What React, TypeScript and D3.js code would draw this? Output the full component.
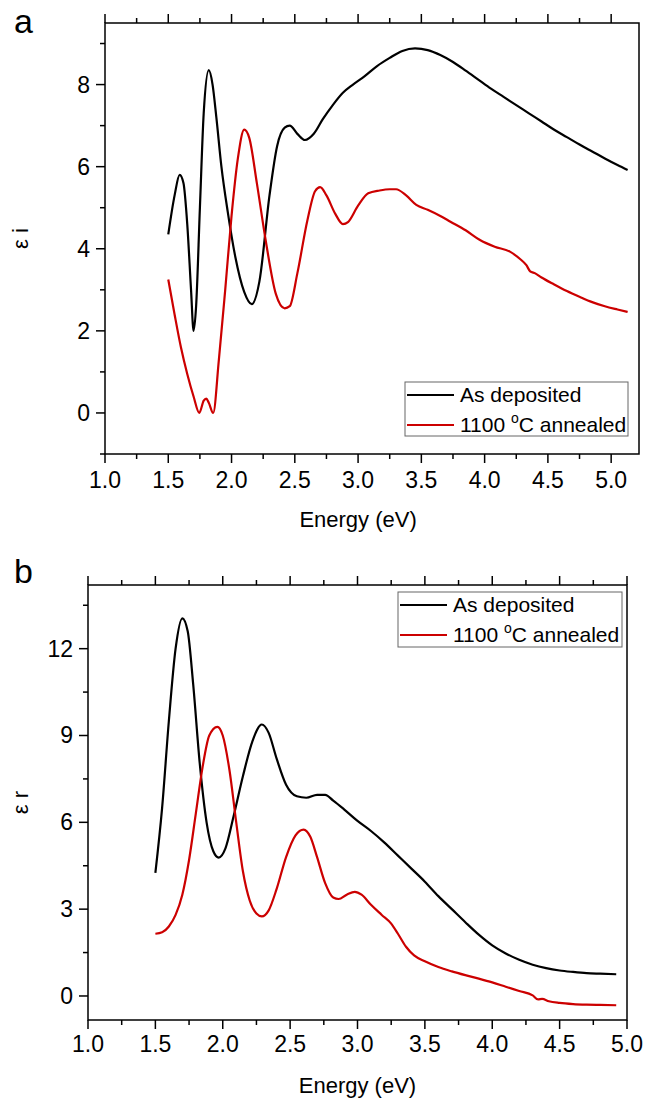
import React from "react";
import * as d3 from "d3";

// ---------- DATA ----------
// Panel a: imaginary part (eps_i)
const epsIDepositedE = [1.50,1.55,1.59,1.62,1.65,1.68,1.70,1.72,1.75,1.78,1.82,1.85,1.88,1.92,1.97,2.03,2.10,2.16,2.22,2.30,2.36,2.42,2.46,2.52,2.58,2.65,2.72,2.80,2.88,2.96,3.05,3.15,3.25,3.35,3.45,3.55,3.65,3.75,3.85,3.95,4.05,4.15,4.25,4.35,4.45,4.55,4.65,4.75,4.85,4.95,5.05,5.13];
const epsIDepositedV = [4.35,5.3,5.8,5.6,4.6,3.0,2.0,2.6,5.0,7.3,8.35,8.0,7.2,6.0,4.9,3.8,2.95,2.65,3.2,5.3,6.5,6.95,7.0,6.8,6.65,6.8,7.15,7.5,7.8,8.0,8.2,8.45,8.65,8.82,8.88,8.84,8.72,8.55,8.34,8.12,7.9,7.7,7.5,7.3,7.1,6.9,6.72,6.54,6.37,6.2,6.04,5.92];

const epsIAnnealedE = [1.50,1.55,1.60,1.65,1.70,1.745,1.78,1.80,1.82,1.855,1.90,1.95,2.00,2.05,2.10,2.14,2.20,2.27,2.35,2.42,2.46,2.52,2.60,2.66,2.70,2.75,2.82,2.88,2.92,3.00,3.08,3.17,3.25,3.30,3.38,3.46,3.55,3.65,3.73,3.85,3.96,4.08,4.20,4.28,4.33,4.36,4.40,4.45,4.55,4.65,4.75,4.85,4.95,5.05,5.13];
const epsIAnnealedV = [3.25,2.4,1.6,0.95,0.4,0.0,0.3,0.35,0.25,0.0,1.3,3.0,4.8,6.2,6.9,6.7,5.6,4.2,2.9,2.55,2.6,3.4,4.7,5.4,5.5,5.3,4.85,4.6,4.65,5.05,5.35,5.42,5.45,5.45,5.3,5.07,4.95,4.8,4.66,4.45,4.22,4.05,3.93,3.75,3.6,3.45,3.4,3.3,3.13,2.97,2.83,2.7,2.6,2.52,2.46];

// Panel b: real part (eps_r)
const epsRDepositedE = [1.50,1.55,1.60,1.65,1.70,1.74,1.78,1.83,1.88,1.93,1.97,2.02,2.08,2.15,2.22,2.29,2.34,2.40,2.47,2.55,2.62,2.70,2.76,2.82,2.90,3.00,3.10,3.20,3.30,3.40,3.50,3.60,3.70,3.80,3.90,4.00,4.10,4.20,4.30,4.40,4.50,4.60,4.70,4.80,4.92];
const epsRDepositedV = [4.25,6.5,9.5,12.0,13.05,12.6,10.8,8.0,6.0,5.0,4.78,5.1,6.2,7.6,8.8,9.38,9.1,8.2,7.3,6.9,6.85,6.95,6.95,6.75,6.45,6.05,5.7,5.3,4.85,4.4,3.95,3.45,3.0,2.55,2.12,1.75,1.47,1.25,1.08,0.96,0.88,0.83,0.79,0.77,0.75];

const epsRAnnealedE = [1.50,1.55,1.60,1.65,1.70,1.75,1.80,1.85,1.90,1.96,2.00,2.05,2.10,2.15,2.20,2.25,2.29,2.34,2.40,2.47,2.54,2.60,2.65,2.70,2.76,2.82,2.86,2.92,2.98,3.03,3.10,3.18,3.25,3.30,3.36,3.42,3.50,3.60,3.70,3.80,3.90,4.00,4.10,4.20,4.30,4.34,4.37,4.42,4.50,4.60,4.70,4.80,4.92];
const epsRAnnealedV = [2.15,2.2,2.4,2.8,3.5,4.7,6.3,7.9,9.0,9.3,9.0,7.8,6.0,4.3,3.3,2.85,2.75,2.95,3.7,4.8,5.55,5.75,5.5,4.8,3.9,3.4,3.35,3.5,3.6,3.5,3.15,2.8,2.5,2.15,1.7,1.4,1.2,1.0,0.85,0.72,0.6,0.47,0.32,0.17,0.02,-0.12,-0.1,-0.18,-0.24,-0.28,-0.3,-0.31,-0.32];

const energyMajorTicks = [1.0, 1.5, 2.0, 2.5, 3.0, 3.5, 4.0, 4.5, 5.0];
const energyMinorTicks = [1.25, 1.75, 2.25, 2.75, 3.25, 3.75, 4.25, 4.75];
const epsIMajorTicks = [0, 2, 4, 6, 8];
const epsIMinorTicks = [-1, 1, 3, 5, 7, 9];
const epsRMajorTicks = [0, 3, 6, 9, 12];
const epsRMinorTicks = [1.5, 4.5, 7.5, 10.5, 13.5];

const seriesNames = ["As deposited", "1100 \u00B0C annealed"];
const seriesColors = ["#000000", "#cc0000"];

const FONT = "Arial, 'Liberation Sans', Helvetica, sans-serif";

type PanelProps = {
  letter: string;
  sub: string;
  xDomain: [number, number];
  xRange: [number, number];
  yDomain: [number, number];
  yRange: [number, number];
  yMajor: number[];
  yMinor: number[];
  series: { e: number[]; v: number[] }[];
  legend: { x: number; y: number; w: number; h: number };
  xLabelY: number;
  tickLabelY: number;
  yLabelX: number;
  letterY: number;
};

function Panel(p: PanelProps) {
  const x = d3.scaleLinear().domain(p.xDomain).range(p.xRange);
  const y = d3.scaleLinear().domain(p.yDomain).range(p.yRange);
  const [x0, x1] = p.xRange;
  const [yb, yt] = p.yRange;
  const line = d3
    .line<[number, number]>()
    .x((d) => x(d[0]))
    .y((d) => y(d[1]))
    .curve(d3.curveMonotoneX);
  const inX = (t: number) => t >= p.xDomain[0] - 1e-9 && t <= p.xDomain[1] + 1e-9;
  const inY = (t: number) => t >= p.yDomain[0] - 1e-9 && t <= p.yDomain[1] + 1e-9;
  const majLen = 9;
  const minLen = 5;
  const xCenter = (x(1) + x(5)) / 2;
  const yMid = (yb + yt) / 2;
  return (
    <g>
      <text x={14} y={p.letterY} fontFamily={FONT} fontSize={34} fill="#000">
        {p.letter}
      </text>
      {/* data */}
      {p.series.map((s, i) => (
        <path
          key={i}
          d={line(s.e.map((e, j) => [e, s.v[j]] as [number, number])) || ""}
          fill="none"
          stroke={seriesColors[i]}
          strokeWidth={2.2}
          strokeLinejoin="round"
        />
      ))}
      {/* frame */}
      <rect x={x0} y={yt} width={x1 - x0} height={yb - yt} fill="none" stroke="#000" strokeWidth={1.5} />
      {/* x ticks bottom and top */}
      {energyMajorTicks.filter(inX).map((t) => (
        <g key={"xm" + t}>
          <line x1={x(t)} x2={x(t)} y1={yb} y2={yb + majLen} stroke="#000" strokeWidth={1.5} />
          <line x1={x(t)} x2={x(t)} y1={yt} y2={yt - majLen} stroke="#000" strokeWidth={1.5} />
          <text x={x(t)} y={p.tickLabelY} textAnchor="middle" fontFamily={FONT} fontSize={23} fill="#000">
            {d3.format(".1f")(t)}
          </text>
        </g>
      ))}
      {energyMinorTicks.filter(inX).map((t) => (
        <g key={"xn" + t}>
          <line x1={x(t)} x2={x(t)} y1={yb} y2={yb + minLen} stroke="#000" strokeWidth={1.5} />
          <line x1={x(t)} x2={x(t)} y1={yt} y2={yt - minLen} stroke="#000" strokeWidth={1.5} />
        </g>
      ))}
      {/* y ticks */}
      {p.yMajor.filter(inY).map((t) => (
        <g key={"ym" + t}>
          <line x1={x0} x2={x0 - majLen} y1={y(t)} y2={y(t)} stroke="#000" strokeWidth={1.5} />
          <text x={x0 - majLen - 6} y={y(t) + 8} textAnchor="end" fontFamily={FONT} fontSize={23} fill="#000">
            {t}
          </text>
        </g>
      ))}
      {p.yMinor.filter(inY).map((t) => (
        <line key={"yn" + t} x1={x0} x2={x0 - minLen} y1={y(t)} y2={y(t)} stroke="#000" strokeWidth={1.5} />
      ))}
      {/* axis labels */}
      <text x={xCenter} y={p.xLabelY} textAnchor="middle" fontFamily={FONT} fontSize={22} fill="#000">
        Energy (eV)
      </text>
      <text
        transform={`translate(${p.yLabelX},${yMid}) rotate(-90)`}
        textAnchor="middle"
        fontFamily={FONT}
        fontSize={22}
        fill="#000"
      >
        {"\u03B5 "}
        <tspan fontSize={22}>{p.sub}</tspan>
      </text>
      {/* legend */}
      <rect
        x={p.legend.x}
        y={p.legend.y}
        width={p.legend.w}
        height={p.legend.h}
        fill="#fff"
        stroke="#666"
        strokeWidth={1}
      />
      {seriesNames.map((name, i) => {
        const ry = p.legend.y + 13 + i * 30;
        return (
          <g key={name}>
            <line
              x1={p.legend.x + 2}
              x2={p.legend.x + 49}
              y1={ry}
              y2={ry}
              stroke={seriesColors[i]}
              strokeWidth={2.2}
            />
            <text x={p.legend.x + 55} y={ry + 7} fontFamily={FONT} fontSize={21} fill="#000">
              {i === 0 ? (
                name
              ) : (
                <>
                  {"1100 "}
                  <tspan fontSize={14} dy={-9}>o</tspan>
                  <tspan dy={9}>C annealed</tspan>
                </>
              )}
            </text>
          </g>
        );
      })}
    </g>
  );
}

export default function App() {
  return (
    <svg width={648} height={1099} style={{ display: "block", position: "absolute", left: 0, top: 0 }}>
      <rect width={648} height={1099} fill="#fff" />
      <Panel
        letter="a"
        sub="i"
        xDomain={[1, 5.22]}
        xRange={[105, 639]}
        yDomain={[-1, 9.5]}
        yRange={[454, 23]}
        yMajor={epsIMajorTicks}
        yMinor={epsIMinorTicks}
        series={[
          { e: epsIDepositedE, v: epsIDepositedV },
          { e: epsIAnnealedE, v: epsIAnnealedV },
        ]}
        legend={{ x: 405, y: 382, w: 223, h: 54 }}
        xLabelY={527}
        tickLabelY={488}
        yLabelX={28}
        letterY={33}
      />
      <Panel
        letter="b"
        sub="r"
        xDomain={[1, 5]}
        xRange={[88, 627]}
        yDomain={[-0.83, 14.2]}
        yRange={[1020, 585]}
        yMajor={epsRMajorTicks}
        yMinor={epsRMinorTicks}
        series={[
          { e: epsRDepositedE, v: epsRDepositedV },
          { e: epsRAnnealedE, v: epsRAnnealedV },
        ]}
        legend={{ x: 398, y: 592, w: 224, h: 55 }}
        xLabelY={1093}
        tickLabelY={1052}
        yLabelX={28}
        letterY={583}
      />
    </svg>
  );
}
